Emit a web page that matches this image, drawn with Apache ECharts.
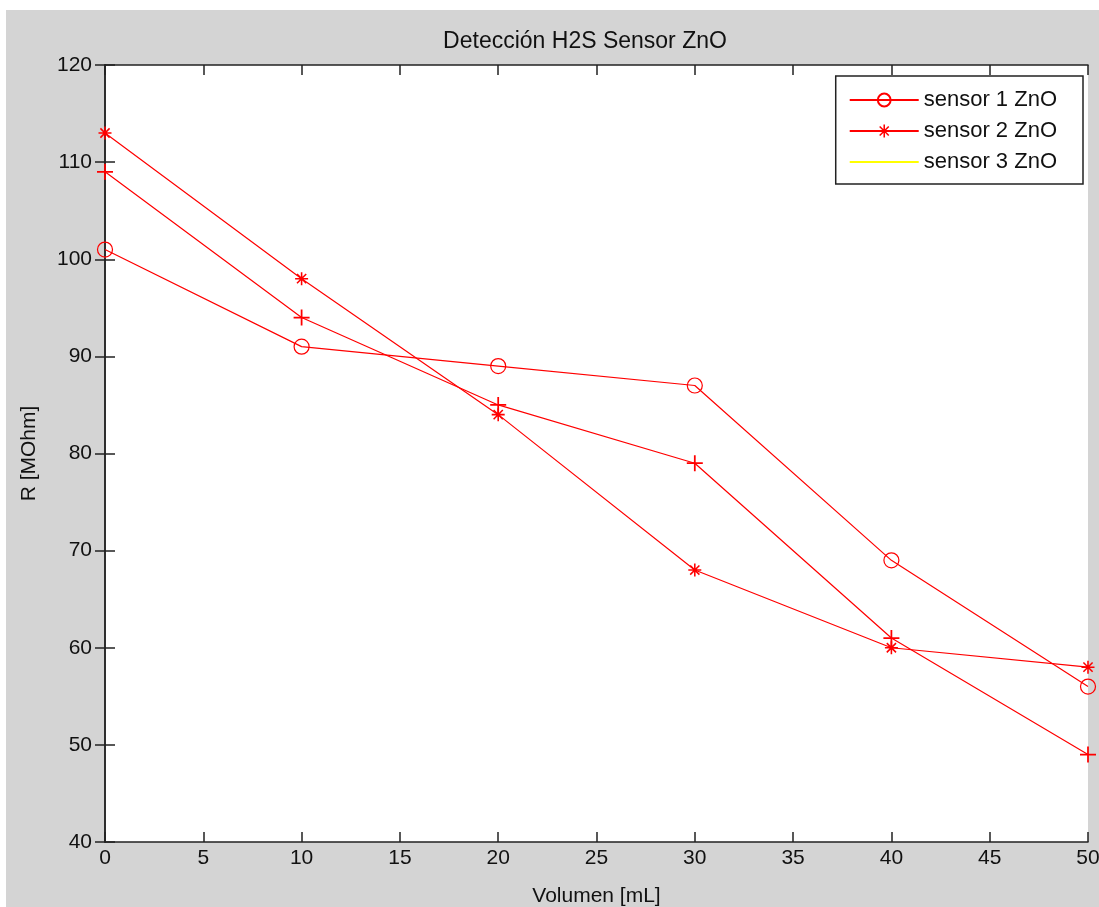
<!DOCTYPE html>
<html>
<head>
<meta charset="utf-8">
<script src="https://cdn.jsdelivr.net/npm/echarts@6/dist/echarts.min.js"></script>
<style>
  html, body { margin: 0; padding: 0; background: #fff; }
  #wrap { position: relative; width: 1099px; height: 907px; background: #fff; }
  #chart { position: absolute; left: 6px; top: 10px; width: 1093px; height: 897px; background: #d4d4d4; }
</style>
</head>
<body>
<div id="wrap"><div id="chart"></div></div>
<script>
// volumen en mL
const volumen = [0, 10, 20, 30, 40, 50];
const sensor1 = [101, 91, 89, 87, 69, 56];
const sensor2 = [113, 98, 84, 68, 60, 58];
const sensor3 = [109, 94, 85, 79, 61, 49];
const nombres = ['sensor 1 ZnO', 'sensor 2 ZnO', 'sensor 3 ZnO'];

const rojo = '#ff0000';
const fuente = 'Liberation Sans';
// marcadores estilo matlab
const asterisco = 'path://M4.4,0 H5.6 V10 H4.4 Z M0,4.4 H10 V5.6 H0 Z M1.88,1.04 L8.96,8.12 L8.12,8.96 L1.04,1.88 Z M8.96,1.88 L1.88,8.96 L1.04,8.12 L8.12,1.04 Z';
const cruz = 'path://M4.45,0 H5.55 V4.45 H10 V5.55 H5.55 V10 H4.45 V5.55 H0 V4.45 H4.45 Z';

const pares = (ys) => volumen.map((x, i) => [x, ys[i]]);

const ejeX = (pos, labels) => ({
  type: 'value', position: pos, min: 0, max: 50, interval: 5,
  name: labels ? 'Volumen [mL]' : '', nameLocation: 'middle', nameGap: 44,
  nameTextStyle: {fontFamily: fuente, fontSize: 21, color: '#111'},
  axisLine: {show: true, lineStyle: {color: '#222', width: 1.5}},
  axisTick: {show: true, inside: true, length: 10, lineStyle: {color: '#222', width: 1.5}},
  axisLabel: {show: labels, margin: 6, fontFamily: fuente, fontSize: 21, color: '#111'},
  splitLine: {show: false}
});
const ejeY = (pos, labels) => ({
  type: 'value', position: pos, min: 40, max: 120, interval: 10,
  name: labels ? 'R [MOhm]' : '', nameLocation: 'middle', nameGap: 65, nameRotate: 90,
  nameTextStyle: {fontFamily: fuente, fontSize: 21, color: '#111'},
  axisLine: {show: true, lineStyle: {color: '#222', width: 1.5}},
  axisTick: {show: true, inside: true, length: 10, lineStyle: {color: '#222', width: 1.5}},
  axisLabel: {show: labels, margin: 13, fontFamily: fuente, fontSize: 21, color: '#111'},
  splitLine: {show: false}
});

const chart = echarts.init(document.getElementById('chart'));
chart.setOption({
  animation: false,
  title: {
    text: 'Detección H2S Sensor ZnO',
    left: 574, top: 15, textAlign: 'center',
    textStyle: {fontFamily: fuente, fontSize: 23, fontWeight: 'normal', color: '#111'}
  },
  grid: {
    left: 99, right: 11, top: 55, bottom: 65,
    outerBoundsMode: 'none', containLabel: false,
    show: true, backgroundColor: '#fff', borderWidth: 0
  },
  legend: {
    orient: 'vertical', right: 16, top: 66,
    backgroundColor: '#fff', borderColor: '#222', borderWidth: 1.5, borderRadius: 0,
    padding: [13, 26, 11, 13],
    itemWidth: 69, itemHeight: 16, itemGap: 9,
    textStyle: {fontFamily: fuente, fontSize: 22, color: '#111'},
    data: [
      {name: nombres[0]},
      {name: nombres[1]},
      {name: nombres[2], itemStyle: {opacity: 0}, lineStyle: {color: '#ffff00'}}
    ]
  },
  xAxis: [ejeX('bottom', true), ejeX('top', false)],
  yAxis: [ejeY('left', true), ejeY('right', false)],
  series: [
    {
      name: nombres[0], type: 'line', data: pares(sensor1),
      symbol: 'circle', symbolSize: 15,
      itemStyle: {color: 'rgba(0,0,0,0)', borderColor: rojo, borderWidth: 1.2},
      lineStyle: {color: rojo, width: 1.2}
    },
    {
      name: nombres[1], type: 'line', data: pares(sensor2),
      symbol: asterisco, symbolSize: 13,
      itemStyle: {color: rojo},
      lineStyle: {color: rojo, width: 1.2}
    },
    {
      name: nombres[2], type: 'line', data: pares(sensor3),
      symbol: cruz, symbolSize: 16,
      itemStyle: {color: rojo},
      lineStyle: {color: rojo, width: 1.2}
    }
  ]
});
</script>
</body>
</html>
